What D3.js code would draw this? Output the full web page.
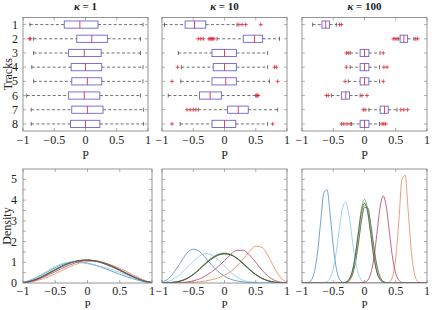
<!DOCTYPE html>
<html>
<head>
<meta charset="utf-8">
<script src="https://cdn.jsdelivr.net/npm/d3@7"></script>
<style>
  body { margin: 0; background: #fff; }
  svg { display: block; font-family: 'Liberation Serif', serif; }
</style>
</head>
<body>
<svg id="chart" width="432" height="310"></svg>
<script>
// ---- data ----
const tracks = [1, 2, 3, 4, 5, 6, 7, 8];
const kappas = ['1', '10', '100'];
const xTicks = [-1, -0.5, 0, 0.5, 1];
const xTickLabels = ['\u22121', '\u22120.5', '0', '0.5', '1'];
const densTicks = [0, 1, 2, 3, 4, 5];

// box stats per track: [whisker low, q1, median, q3, whisker high]
const boxK1 = [
  [-0.89, -0.34, -0.09, 0.20, 0.92],
  [-0.83, -0.14, 0.10, 0.35, 0.88],
  [-0.83, -0.27, -0.02, 0.25, 0.88],
  [-0.86, -0.23, 0.00, 0.26, 0.92],
  [-0.83, -0.22, 0.03, 0.26, 0.92],
  [-0.94, -0.27, -0.02, 0.23, 0.88],
  [-0.87, -0.22, 0.03, 0.28, 0.93],
  [-0.87, -0.24, 0.00, 0.23, 0.93]
];
const outK1 = [[], [-0.90, -0.88], [], [], [], [], [], []];

const boxK10 = [
  [-0.96, -0.63, -0.48, -0.30, 0.20],
  [-0.12, 0.30, 0.48, 0.61, 0.88],
  [-0.74, -0.20, 0.00, 0.19, 0.69],
  [-0.69, -0.18, 0.00, 0.19, 0.69],
  [-0.70, -0.20, 0.02, 0.19, 0.72],
  [-0.90, -0.40, -0.23, -0.05, 0.50],
  [-0.42, 0.05, 0.22, 0.38, 0.85],
  [-0.71, -0.20, 0.00, 0.18, 0.69]
];
const outK10 = [
  [0.23, 0.28, 0.34, 0.58],
  [-0.42, -0.38, -0.34, -0.25, -0.23, -0.21, -0.19, -0.17],
  [],
  [-0.75, 0.80, 0.83],
  [-0.84, 0.85],
  [0.51, 0.53, 0.54],
  [-0.60, -0.55, -0.50, -0.46],
  [-0.84, 0.77]
];

const boxK100 = [
  [-0.83, -0.68, -0.62, -0.56, -0.45],
  [0.54, 0.57, 0.63, 0.69, 0.79],
  [-0.23, -0.07, 0.00, 0.07, 0.25],
  [-0.23, -0.07, 0.00, 0.07, 0.24],
  [-0.26, -0.07, 0.00, 0.07, 0.24],
  [-0.53, -0.37, -0.30, -0.24, -0.07],
  [0.07, 0.25, 0.32, 0.38, 0.52],
  [-0.21, -0.07, 0.00, 0.07, 0.24]
];
const outK100 = [
  [-0.40, -0.37],
  [0.46, 0.49, 0.52, 0.82, 0.85],
  [-0.29, -0.26, 0.30],
  [-0.29, 0.31, 0.36],
  [-0.31, 0.30],
  [-0.61, -0.58, -0.04, 0.04],
  [-0.02, 0.01, 0.58, 0.63, 0.69],
  [-0.37, -0.33, -0.28, -0.23, 0.28, 0.31, 0.34]
];

// density curves, sampled on a grid
const gridCoarse = [-1, -0.9, -0.8, -0.7, -0.6, -0.5, -0.4, -0.3, -0.2, -0.1, 0,
  0.1, 0.2, 0.3, 0.4, 0.5, 0.6, 0.7, 0.8, 0.9, 1];
const gridFine = [-1, -0.95, -0.9, -0.85, -0.8, -0.75, -0.7, -0.65, -0.6, -0.55, -0.5,
  -0.45, -0.4, -0.35, -0.3, -0.25, -0.2, -0.15, -0.1, -0.05, 0,
  0.05, 0.1, 0.15, 0.2, 0.25, 0.3, 0.35, 0.4, 0.45, 0.5,
  0.55, 0.6, 0.65, 0.7, 0.75, 0.8, 0.85, 0.9, 0.95, 1];

const densK1 = [
  [0.03, 0.12, 0.25, 0.40, 0.57, 0.74, 0.88, 0.98, 1.02, 1.01, 0.96, 0.88, 0.78, 0.66, 0.54, 0.42, 0.31, 0.21, 0.12, 0.05, 0.01],
  [0.01, 0.04, 0.10, 0.19, 0.31, 0.45, 0.60, 0.75, 0.88, 0.98, 1.03, 1.04, 1.01, 0.94, 0.84, 0.71, 0.56, 0.40, 0.25, 0.11, 0.03],
  [0.02, 0.08, 0.18, 0.32, 0.48, 0.64, 0.80, 0.93, 1.03, 1.09, 1.11, 1.08, 1.00, 0.89, 0.76, 0.61, 0.46, 0.31, 0.18, 0.08, 0.02],
  [0.02, 0.07, 0.17, 0.30, 0.46, 0.63, 0.79, 0.93, 1.03, 1.09, 1.10, 1.07, 1.00, 0.89, 0.76, 0.62, 0.47, 0.32, 0.19, 0.08, 0.02],
  [0.02, 0.07, 0.16, 0.29, 0.45, 0.62, 0.78, 0.92, 1.02, 1.08, 1.10, 1.08, 1.02, 0.92, 0.79, 0.64, 0.48, 0.32, 0.18, 0.08, 0.02],
  [0.03, 0.12, 0.26, 0.43, 0.62, 0.80, 0.93, 1.00, 1.01, 0.98, 0.93, 0.87, 0.80, 0.72, 0.62, 0.51, 0.39, 0.27, 0.16, 0.07, 0.02],
  [0.02, 0.06, 0.14, 0.26, 0.40, 0.55, 0.70, 0.84, 0.96, 1.05, 1.09, 1.08, 1.02, 0.92, 0.79, 0.64, 0.48, 0.33, 0.19, 0.08, 0.02],
  [0.02, 0.08, 0.18, 0.32, 0.49, 0.66, 0.82, 0.95, 1.05, 1.10, 1.11, 1.07, 0.99, 0.88, 0.75, 0.60, 0.45, 0.30, 0.17, 0.07, 0.02]
];

const densK10 = [
  [0.05, 0.20, 0.55, 1.00, 1.45, 1.63, 1.52, 1.20, 0.85, 0.55, 0.33, 0.18, 0.10, 0.05, 0.02, 0.01, 0, 0, 0, 0, 0],
  [0, 0, 0.01, 0.01, 0.02, 0.03, 0.06, 0.10, 0.16, 0.25, 0.38, 0.56, 0.82, 1.15, 1.52, 1.78, 1.72, 1.30, 0.72, 0.25, 0.03],
  [0, 0.01, 0.04, 0.10, 0.22, 0.42, 0.68, 0.97, 1.22, 1.39, 1.45, 1.38, 1.19, 0.92, 0.64, 0.40, 0.22, 0.10, 0.04, 0.01, 0],
  [0, 0.01, 0.04, 0.10, 0.22, 0.41, 0.66, 0.94, 1.18, 1.35, 1.41, 1.36, 1.19, 0.94, 0.66, 0.41, 0.23, 0.11, 0.04, 0.01, 0],
  [0, 0.01, 0.04, 0.10, 0.21, 0.40, 0.65, 0.93, 1.17, 1.34, 1.40, 1.36, 1.20, 0.95, 0.67, 0.42, 0.23, 0.11, 0.04, 0.01, 0],
  [0.02, 0.08, 0.22, 0.45, 0.75, 1.05, 1.30, 1.42, 1.35, 1.12, 0.82, 0.52, 0.28, 0.13, 0.06, 0.03, 0.01, 0, 0, 0, 0],
  [0, 0, 0.01, 0.02, 0.05, 0.10, 0.20, 0.35, 0.55, 0.80, 1.08, 1.38, 1.58, 1.58, 1.35, 1.00, 0.62, 0.32, 0.13, 0.04, 0.01],
  [0, 0.01, 0.04, 0.10, 0.22, 0.42, 0.68, 0.96, 1.20, 1.36, 1.42, 1.36, 1.18, 0.92, 0.64, 0.40, 0.22, 0.10, 0.04, 0.01, 0]
];

const densK100 = [
  [0, 0, 0.03, 0.14, 0.55, 1.51, 3.00, 4.35, 4.50, 3.31, 1.78, 0.69, 0.19, 0.04, 0.01, 0, 0, 0, 0, 0, 0,
   0, 0, 0, 0, 0, 0, 0, 0, 0, 0, 0, 0, 0, 0, 0, 0, 0, 0, 0, 0],
  [0, 0, 0, 0, 0, 0, 0, 0, 0, 0, 0, 0, 0, 0, 0, 0, 0, 0, 0, 0, 0,
   0, 0, 0, 0, 0, 0, 0.01, 0.05, 0.32, 1.22, 3.02, 5.00, 5.20, 3.44, 1.51, 0.43, 0.08, 0.01, 0, 0],
  [0, 0, 0, 0, 0, 0, 0, 0, 0, 0, 0, 0, 0, 0.01, 0.04, 0.17, 0.52, 1.28, 2.42, 3.55, 4.03,
   3.55, 2.42, 1.28, 0.52, 0.17, 0.04, 0.01, 0, 0, 0, 0, 0, 0, 0, 0, 0, 0, 0, 0, 0],
  [0, 0, 0, 0, 0, 0, 0, 0, 0, 0, 0, 0, 0, 0.01, 0.03, 0.12, 0.40, 1.00, 2.00, 3.10, 3.75,
   3.65, 2.75, 1.60, 0.72, 0.25, 0.07, 0.02, 0, 0, 0, 0, 0, 0, 0, 0, 0, 0, 0, 0, 0],
  [0, 0, 0, 0, 0, 0, 0, 0, 0, 0, 0, 0, 0, 0.01, 0.02, 0.10, 0.34, 0.90, 1.85, 2.95, 3.65,
   3.62, 2.85, 1.75, 0.82, 0.30, 0.08, 0.02, 0, 0, 0, 0, 0, 0, 0, 0, 0, 0, 0, 0, 0],
  [0, 0, 0, 0, 0, 0, 0, 0.02, 0.07, 0.25, 0.69, 1.53, 2.66, 3.63, 3.90, 3.30, 2.20, 1.14, 0.47, 0.15, 0.04,
   0.01, 0, 0, 0, 0, 0, 0, 0, 0, 0, 0, 0, 0, 0, 0, 0, 0, 0, 0, 0],
  [0, 0, 0, 0, 0, 0, 0, 0, 0, 0, 0, 0, 0, 0, 0, 0, 0, 0, 0, 0.01, 0.03,
   0.13, 0.46, 1.20, 2.41, 3.66, 4.20, 3.66, 2.41, 1.20, 0.46, 0.13, 0.03, 0.01, 0, 0, 0, 0, 0, 0, 0],
  [0, 0, 0, 0, 0, 0, 0, 0, 0, 0, 0, 0, 0, 0.01, 0.04, 0.16, 0.50, 1.25, 2.35, 3.40, 3.85,
   3.40, 2.35, 1.25, 0.50, 0.16, 0.04, 0.01, 0, 0, 0, 0, 0, 0, 0, 0, 0, 0, 0, 0, 0]
];

const trackColors = ['#4a8cc0', '#e4865c', '#5a9e5e', '#c9c457', '#555e5a', '#86c8e3', '#b23c64', '#3d5a4a'];

// ---- layout ----
const svg = d3.select('#chart');
const panelX = [23, 162, 302];
const topW = [125, 125, 125];
const botW = [129, 125, 125];
const rowTop = { y0: 17.5, y1: 131, tickY: 13, labelY: 28, labelSize: 12 };
const rowBot = { y0: 169, y1: 283, tickY: 11.5, labelY: 24.5, labelSize: 11 };
const frameColor = '#7a7a7a';
const tickLen = 3;

const boxes = [boxK1, boxK10, boxK100];
const outs = [outK1, outK10, outK100];
const dens = [densK1, densK10, densK100];
const grids = [gridCoarse, gridCoarse, gridFine];

function frame(g, w, h) {
  g.append('rect')
    .attr('width', w).attr('height', h)
    .attr('fill', 'none')
    .attr('stroke', frameColor)
    .attr('stroke-width', 0.8);
}

function xAxisLabels(g, x, h, row) {
  // inner ticks top and bottom
  g.selectAll('.xt').data(xTicks).join('path')
    .attr('d', d => `M${x(d)},${h}v${-tickLen}M${x(d)},0v${tickLen}`)
    .attr('stroke', frameColor).attr('stroke-width', 0.6);
  g.selectAll('.xl').data(xTicks).join('text')
    .attr('x', d => x(d))
    .attr('y', h + row.tickY)
    .attr('text-anchor', 'middle')
    .style('font-size', '12px')
    .attr('fill', '#222')
    .text((d, i) => xTickLabels[i]);
  g.append('text')
    .attr('x', x(0))
    .attr('y', h + row.labelY)
    .attr('text-anchor', 'middle')
    .style('font-size', row.labelSize + 'px')
    .attr('fill', '#222')
    .text('P');
}

// ---- top row: box plots ----
kappas.forEach((k, p) => {
  const w = topW[p];
  const h = rowTop.y1 - rowTop.y0;
  const g = svg.append('g').attr('transform', `translate(${panelX[p]},${rowTop.y0})`);
  const x = d3.scaleLinear().domain([-1, 1]).range([0, w]);
  const y = d3.scaleLinear().domain([0.5, 8.5]).range([0, h]);
  const bh = 7.2;

  // title
  const t = g.append('text')
    .attr('x', x(0)).attr('y', -8)
    .attr('text-anchor', 'middle')
    .style('font-size', '11px')
    .style('font-weight', 'bold')
    .attr('fill', '#222');
  t.append('tspan').style('font-style', 'italic').text('\u03ba');
  t.append('tspan').text(' = ' + k);

  // side ticks at each track
  g.selectAll('.yt').data(tracks).join('path')
    .attr('d', d => `M0,${y(d)}h${tickLen}M${w},${y(d)}h${-tickLen}`)
    .attr('stroke', frameColor).attr('stroke-width', 0.6);

  const rows = g.selectAll('.row').data(boxes[p]).join('g')
    .attr('transform', (d, i) => `translate(0,${y(tracks[i])})`);

  // whiskers
  rows.append('path')
    .attr('d', d => `M${x(d[0])},0H${x(d[1])}M${x(d[3])},0H${x(d[4])}`)
    .attr('stroke', '#333').attr('stroke-width', 0.7)
    .attr('stroke-dasharray', '3,2.2');
  rows.append('path')
    .attr('d', d => `M${x(d[0])},-2V2M${x(d[4])},-2V2`)
    .attr('stroke', '#333').attr('stroke-width', 0.7);
  // box
  rows.append('rect')
    .attr('x', d => x(d[1]))
    .attr('y', -bh / 2)
    .attr('width', d => x(d[3]) - x(d[1]))
    .attr('height', bh)
    .attr('fill', 'none')
    .attr('stroke', '#6b62d6')
    .attr('stroke-width', 0.9);
  rows.append('path')
    .attr('d', d => `M${x(d[2])},${-bh / 2}V${bh / 2}`)
    .attr('stroke', '#e0304a').attr('stroke-width', 0.9);

  // outliers
  rows.each(function (d, i) {
    d3.select(this).selectAll('.o').data(outs[p][i]).join('path')
      .attr('d', v => `M${x(v) - 2},0h4M${x(v)},-2v4`)
      .attr('stroke', '#e0263a').attr('stroke-width', 0.8);
  });

  frame(g, w, h);
  xAxisLabels(g, x, h, rowTop);

  if (p === 0) {
    g.selectAll('.yl').data(tracks).join('text')
      .attr('x', -5).attr('y', d => y(d) + 4)
      .attr('text-anchor', 'end')
      .style('font-size', '12px')
      .attr('fill', '#222')
      .text(d => d);
    g.append('text')
      .attr('transform', `translate(-11,${h / 2}) rotate(-90)`)
      .attr('text-anchor', 'middle')
      .style('font-size', '12px')
      .attr('fill', '#222')
      .text('Tracks');
  }
});

// ---- bottom row: densities ----
kappas.forEach((k, p) => {
  const w = botW[p];
  const h = rowBot.y1 - rowBot.y0;
  const g = svg.append('g').attr('transform', `translate(${panelX[p]},${rowBot.y0})`);
  const x = d3.scaleLinear().domain([-1, 1]).range([0, w]);
  const y = d3.scaleLinear().domain([0, 5.5]).range([h, 0]);

  const minor = d3.range(0.5, 5.5, 0.5);
  g.selectAll('.yt').data(minor).join('path')
    .attr('d', d => `M0,${y(d)}h${tickLen}M${w},${y(d)}h${-tickLen}`)
    .attr('stroke', frameColor).attr('stroke-width', 0.6);

  const clipId = 'clip' + p;
  g.append('clipPath').attr('id', clipId)
    .append('rect').attr('width', w).attr('height', h);

  const line = d3.line()
    .x((d, i) => x(grids[p][i]))
    .y(d => y(d))
    .curve(d3.curveMonotoneX);

  g.append('g').attr('clip-path', `url(#${clipId})`)
    .selectAll('path').data(dens[p]).join('path')
    .attr('d', line)
    .attr('fill', 'none')
    .attr('stroke', (d, i) => trackColors[i])
    .attr('stroke-width', 0.8);

  frame(g, w, h);
  xAxisLabels(g, x, h, rowBot);

  if (p === 0) {
    g.selectAll('.yl').data(densTicks).join('text')
      .attr('x', -6).attr('y', d => y(d) + 4)
      .attr('text-anchor', 'end')
      .style('font-size', '12px')
      .attr('fill', '#222')
      .text(d => d);
    g.append('text')
      .attr('transform', `translate(-12,${h / 2}) rotate(-90)`)
      .attr('text-anchor', 'middle')
      .style('font-size', '12px')
      .attr('fill', '#222')
      .text('Density');
  }
});
</script>
</body>
</html>
